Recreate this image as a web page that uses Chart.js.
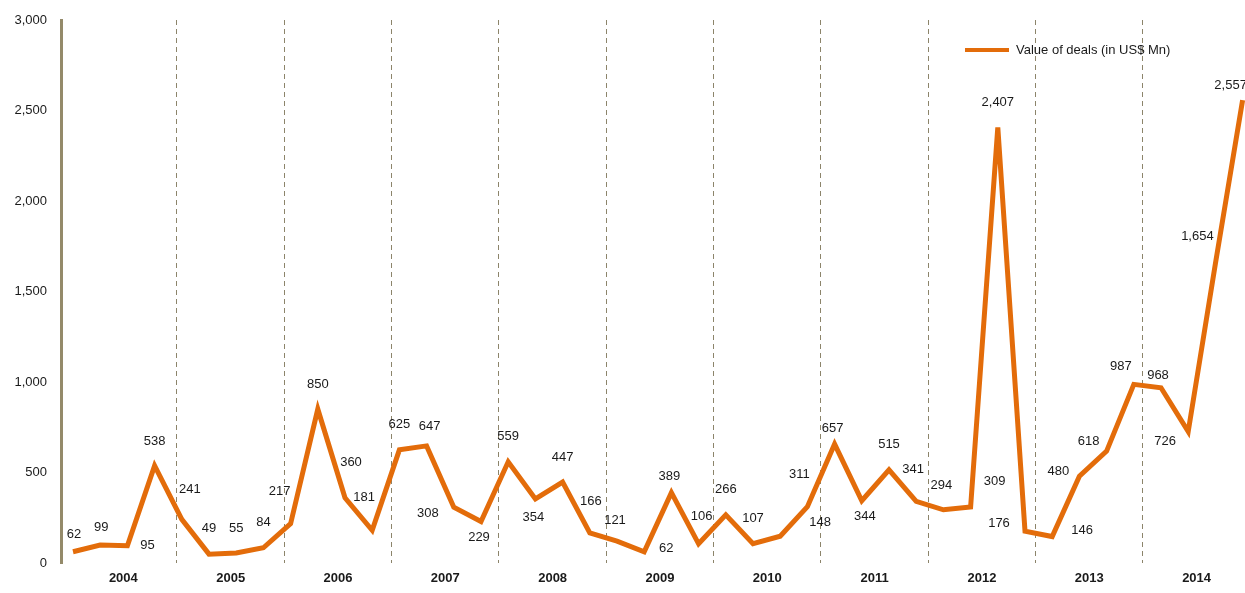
<!DOCTYPE html>
<html>
<head>
<meta charset="utf-8">
<script src="https://cdn.jsdelivr.net/npm/chart.js@4.4.0/dist/chart.umd.min.js"></script>
<style>
  html, body { margin: 0; padding: 0; background: #fff; }
  #wrap { width: 1245px; height: 593px; }
</style>
</head>
<body>
<div id="wrap"><canvas id="chart"></canvas></div>
<script>
// Valores trimestrais (US$ Mn), 2004 T1 ate 2014 T4
const years = ['2004', '2005', '2006', '2007', '2008', '2009', '2010', '2011', '2012', '2013', '2014'];
const dealValues = [
  62, 99, 95, 538,
  241, 49, 55, 84,
  217, 850, 360, 181,
  625, 647, 308, 229,
  559, 354, 447, 166,
  121, 62, 389, 106,
  266, 107, 148, 311,
  657, 344, 515, 341,
  294, 309, 2407, 176,
  146, 480, 618, 987,
  968, 726, 1654, 2557
];
const seriesLabel = 'Value of deals (in US$ Mn)';
const yTicks = [0, 500, 1000, 1500, 2000, 2500, 3000];

// Deslocamento de cada rotulo em relacao ao ponto (px)
const labelOffsets = [
  [1, -17], [1, -18], [20, 0], [0, -24],
  [8, -30], [0, -26], [0, -25], [0, -25],
  [-11, -32], [0, -25], [6, -35], [-8, -33],
  [0, -25], [3, -19], [-26, 6], [-2, 16],
  [0, -25], [-2, 18], [0, -25], [1, -32],
  [-2, -21], [22, -3], [-2, -16], [3, -27],
  [0, -25], [0, -25], [40, -14], [-8, -32],
  [-2, -16], [3, 16], [0, -25], [-3, -32],
  [-2, -24], [24, -26], [0, -25], [-26, -8],
  [30, -6], [-21, -5], [-18, -10], [-13, -18],
  [-3, -12], [-23, 10], [-18, -27], [-12, -15]
];

const FONT = 'Arial, "Liberation Sans", sans-serif';
const ORANGE = '#E36C0A';

// Rotulos de dados e legenda desenhados a mao
const labelsPlugin = {
  id: 'pointLabels',
  afterDatasetsDraw(chart) {
    const ctx = chart.ctx;
    const meta = chart.getDatasetMeta(0);
    ctx.save();
    ctx.font = '13px ' + FONT;
    ctx.fillStyle = '#1a1a1a';
    ctx.textAlign = 'center';
    ctx.textBaseline = 'middle';
    meta.data.forEach((pt, i) => {
      const off = labelOffsets[i] || [0, -20];
      ctx.fillText(dealValues[i].toLocaleString('en-US'), pt.x + off[0], pt.y + off[1]);
    });

    // Legenda
    ctx.strokeStyle = ORANGE;
    ctx.lineWidth = 4;
    ctx.beginPath();
    ctx.moveTo(965, 50);
    ctx.lineTo(1009, 50);
    ctx.stroke();
    ctx.textAlign = 'left';
    ctx.fillText(seriesLabel, 1016, 50);
    ctx.restore();
  }
};

const ctx = document.getElementById('chart').getContext('2d');
new Chart(ctx, {
  type: 'line',
  data: {
    datasets: [{
      label: seriesLabel,
      data: dealValues.map((v, i) => ({ x: i, y: v })),
      borderColor: ORANGE,
      backgroundColor: ORANGE,
      borderWidth: 5,
      pointRadius: 0,
      tension: 0,
      fill: false,
      xAxisID: 'x'
    }]
  },
  options: {
    responsive: true,
    maintainAspectRatio: false,
    animation: false,
    layout: { padding: { top: 20, right: 0, left: 0, bottom: 0 } },
    plugins: {
      legend: { display: false },
      tooltip: { enabled: false }
    },
    scales: {
      x: {
        type: 'linear',
        min: -0.441,
        max: 43.088,
        display: false
      },
      years: {
        type: 'linear',
        position: 'bottom',
        min: -0.0808,
        max: 10.951,
        afterBuildTicks: axis => {
          axis.ticks = years.map((y, k) => ({ value: k + 0.5 }));
        },
        afterFit: axis => { axis.height = 30; },
        grid: { display: false },
        border: { display: false },
        ticks: {
          autoSkip: false,
          maxRotation: 0,
          padding: 0,
          color: '#1a1a1a',
          font: { family: FONT, size: 13, weight: 'bold' },
          callback: (v, idx) => years[idx]
        }
      },
      dividers: {
        type: 'linear',
        position: 'bottom',
        min: -0.0808,
        max: 10.951,
        afterBuildTicks: axis => {
          axis.ticks = years.slice(1).map((y, k) => ({ value: k + 1 }));
        },
        afterFit: axis => { axis.height = 0; },
        grid: {
          display: true,
          drawTicks: false,
          color: '#8C846A',
          lineWidth: 1
        },
        border: { display: false, dash: [5, 4] },
        ticks: { display: false }
      },
      y: {
        min: 0,
        max: 3000,
        afterBuildTicks: axis => {
          axis.ticks = yTicks.map(v => ({ value: v }));
        },
        afterFit: axis => { axis.width = 61; },
        grid: { display: false },
        border: { display: true, color: '#948A6A', width: 3 },
        ticks: {
          padding: 6,
          color: '#1a1a1a',
          font: { family: FONT, size: 13 },
          callback: v => v.toLocaleString('en-US')
        }
      }
    }
  },
  plugins: [labelsPlugin]
});
</script>
</body>
</html>
